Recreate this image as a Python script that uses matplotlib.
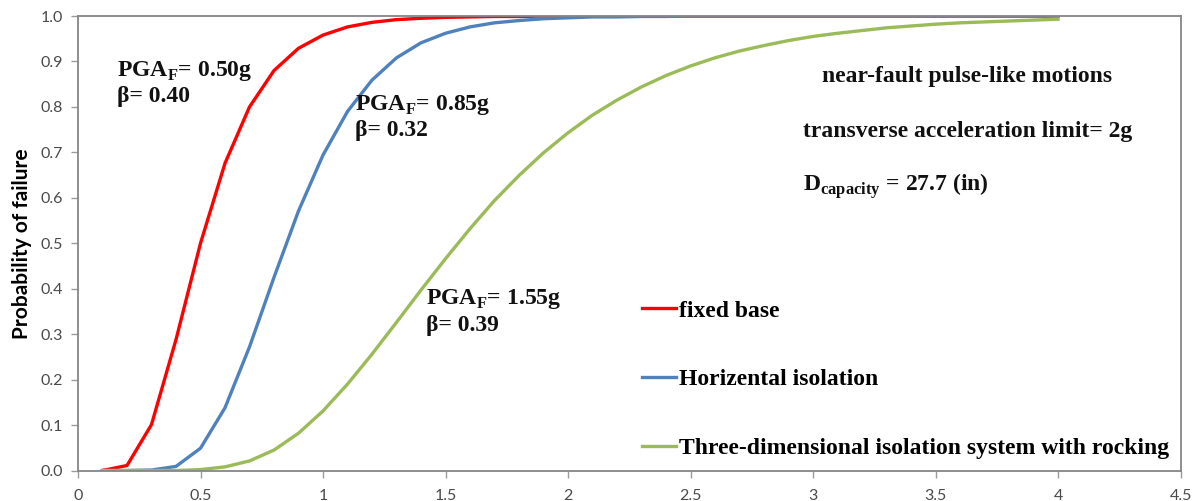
import matplotlib
matplotlib.use("Agg")
import matplotlib.pyplot as plt

plt.rcParams['mathtext.fontset'] = 'custom'
plt.rcParams['mathtext.rm'] = 'Liberation Serif:bold'
plt.rcParams['mathtext.bf'] = 'Liberation Serif:bold'

pga = [0.1, 0.2, 0.3, 0.4, 0.5, 0.6, 0.7, 0.8, 0.9, 1.0,
       1.1, 1.2, 1.3, 1.4, 1.5, 1.6, 1.7, 1.8, 1.9, 2.0,
       2.1, 2.2, 2.3, 2.4, 2.5, 2.6, 2.7, 2.8, 2.9, 3.0,
       3.1, 3.2, 3.3, 3.4, 3.5, 3.6, 3.7, 3.8, 3.9, 4.0]

fixed_base = [0.000, 0.011, 0.101, 0.288, 0.500, 0.676, 0.800, 0.880, 0.929, 0.958,
              0.976, 0.986, 0.992, 0.995, 0.997, 0.998, 0.999, 0.999, 1.000, 1.000,
              1.000, 1.000, 1.000, 1.000, 1.000, 1.000, 1.000, 1.000, 1.000, 1.000,
              1.000, 1.000, 1.000, 1.000, 1.000, 1.000, 1.000, 1.000, 1.000, 1.000]

horizontal = [0.000, 0.000, 0.001, 0.009, 0.049, 0.138, 0.272, 0.425, 0.571, 0.694,
              0.790, 0.859, 0.908, 0.941, 0.962, 0.976, 0.985, 0.990, 0.994, 0.996,
              0.998, 0.998, 0.999, 0.999, 1.000, 1.000, 1.000, 1.000, 1.000, 1.000,
              1.000, 1.000, 1.000, 1.000, 1.000, 1.000, 1.000, 1.000, 1.000, 1.000]

three_dim = [0.000, 0.000, 0.000, 0.000, 0.002, 0.008, 0.021, 0.045, 0.082, 0.131,
             0.190, 0.256, 0.326, 0.397, 0.466, 0.532, 0.594, 0.649, 0.699, 0.743,
             0.782, 0.815, 0.844, 0.869, 0.890, 0.908, 0.923, 0.935, 0.946, 0.955,
             0.962, 0.968, 0.974, 0.978, 0.982, 0.985, 0.987, 0.989, 0.991, 0.993]

series_labels = ["fixed base", "Horizental isolation",
                 "Three-dimensional isolation system with rocking"]
series_colors = ["#FF0000", "#4F81BD", "#9BBB59"]

x_ticks = [0, 0.5, 1, 1.5, 2, 2.5, 3, 3.5, 4, 4.5]
x_tick_labels = ["0", "0.5", "1", "1.5", "2", "2.5", "3", "3.5", "4", "4.5"]
y_ticks = [0.0, 0.1, 0.2, 0.3, 0.4, 0.5, 0.6, 0.7, 0.8, 0.9, 1.0]
y_tick_labels = ["0.0", "0.1", "0.2", "0.3", "0.4", "0.5", "0.6", "0.7", "0.8", "0.9", "1.0"]

fig = plt.figure(figsize=(11.96, 5.01), dpi=100)
ax = fig.add_axes([78/1196, 1 - 470.5/501, (1180.5 - 78)/1196, (470.5 - 16)/501])

handles = []
for ys, lab, col in zip([fixed_base, horizontal, three_dim], series_labels, series_colors):
    h, = ax.plot(pga, ys, color=col, lw=2.4, label=lab, solid_joinstyle='round')
    handles.append(h)

ax.set_xlim(0, 4.5)
ax.set_ylim(0, 1.0)
ax.set_xticks(x_ticks)
ax.set_xticklabels(x_tick_labels)
ax.set_yticks(y_ticks)
ax.set_yticklabels(y_tick_labels)
ax.tick_params(axis='x', length=5, width=1, color='#9a9a9a', labelsize=11.5,
               labelcolor='#4a4a4a', pad=8, direction='out')
ax.tick_params(axis='y', length=5, width=1, color='#9a9a9a', labelsize=11.5,
               labelcolor='#4a4a4a', pad=6, direction='out')
for lab in ax.get_xticklabels() + ax.get_yticklabels():
    lab.set_family('Lato')
for s in ax.spines.values():
    s.set_color('#868686')
    s.set_linewidth(1.3)

ax.set_ylabel("Probability of failure", fontsize=15, fontweight='bold',
              family='Lato', labelpad=6)

serif = dict(family='Liberation Serif', fontweight='bold', color='#111111')
fs_ann = 17

ax.text(0.16, 0.878, r"PGA$_\mathrm{F}$= 0.50g", fontsize=fs_ann, va='center', **serif)
ax.text(0.16, 0.822, "β= 0.40", fontsize=fs_ann, va='center', **serif)
ax.text(1.13, 0.805, r"PGA$_\mathrm{F}$= 0.85g", fontsize=fs_ann, va='center', **serif)
ax.text(1.13, 0.748, "β= 0.32", fontsize=fs_ann, va='center', **serif)
ax.text(1.42, 0.378, r"PGA$_\mathrm{F}$= 1.55g", fontsize=fs_ann, va='center', **serif)
ax.text(1.42, 0.320, "β= 0.39", fontsize=fs_ann, va='center', **serif)

ax.text(3.63, 0.866, "near-fault pulse-like motions", fontsize=fs_ann, ha='center', va='center', **serif)
ax.text(2.96, 0.745, "transverse acceleration limit= 2g", fontsize=fs_ann, ha='left', va='center', **serif)
ax.text(2.96, 0.626, r"D$_\mathrm{capacity}$ = 27.7 (in)", fontsize=fs_ann, ha='left', va='center', **serif)

leg = ax.legend(handles=handles, loc='center left', bbox_to_anchor=(0.5116, 0.200),
                frameon=False, handlelength=1.45, handletextpad=0.12,
                labelspacing=2.0, borderaxespad=0, borderpad=0,
                prop=dict(family='Liberation Serif', weight='bold', size=fs_ann))

fig.savefig("out.png", dpi=100)
